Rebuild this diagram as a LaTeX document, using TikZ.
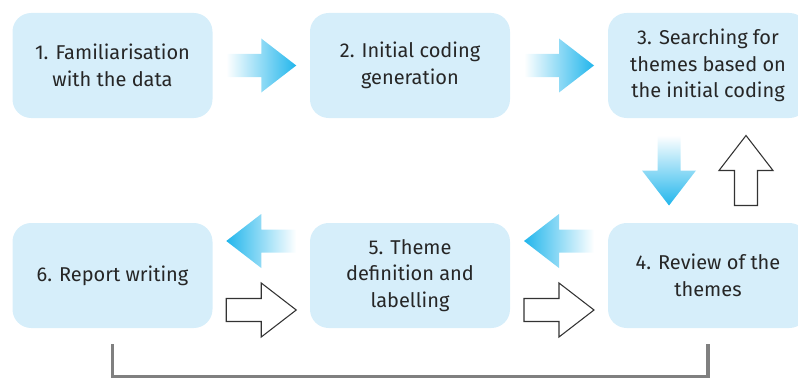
\documentclass[tikz,border=0pt]{standalone}
\usepackage{fontspec}
\setmainfont{Fira Sans}
\usetikzlibrary{calc}

\definecolor{boxblue}{RGB}{214,238,250}
\definecolor{arrowblue}{RGB}{34,182,236}
\definecolor{textgray}{RGB}{38,38,38}
\definecolor{loopgray}{RGB}{128,128,128}

\tikzset{
    stage/.style={rectangle, rounded corners=14pt, fill=boxblue,
        minimum width=150pt, minimum height=78.75pt, align=center,
        text=textgray, font=\fontsize{15pt}{20pt}\selectfont},
    openarrow/.style={draw=black!80, fill=white, line width=0.8pt},
    loopline/.style={draw=loopgray, line width=2.6pt}
}

% block arrow: style, centre, angle
\newcommand{\blockarrow}[3]{
    \path[#1, shift={(#2)}, rotate=#3]
        (-35,-11.5) -- (0,-11.5) -- (0,-27) -- (35,0) -- (0,27) -- (0,11.5) -- (-35,11.5) -- cycle;
}

\begin{document}
\begin{tikzpicture}[x=0.75pt, y=-0.75pt]

    \clip (0, 0) rectangle (798, 378);

    % Top row
    \node[stage] (fam) at (112.5, 65.5) {1. Familiarisation\\with the data};
    \node[stage] (code) at (410, 65.5) {2. Initial coding\\generation};
    \node[stage] (search) at (708, 65.5) {3. Searching for\\themes based on\\the initial coding};

    % Bottom row
    \node[stage] (review) at (708, 275.5) {4. Review of the\\themes};
    \node[stage] (define) at (410, 275.5) {5. Theme\\definition and\\labelling};
    \node[stage] (report) at (112.5, 275.5) {6. Report writing};

    % Forward arrows
    \blockarrow{shade, left color=white, right color=arrowblue}{$(fam.east)!0.5!(code.west)$}{0}
    \blockarrow{shade, left color=white, right color=arrowblue}{$(code.east)!0.5!(search.west)$}{0}
    \blockarrow{shade, top color=white, bottom color=arrowblue}{$(search.south)!0.5!(review.north)+(-39,0)$}{-90}
    \blockarrow{shade, left color=arrowblue, right color=white}{$(review.west)!0.5!(define.east)+(0,-34.5)$}{180}
    \blockarrow{shade, left color=arrowblue, right color=white}{$(define.west)!0.5!(report.east)+(0,-34.5)$}{180}

    % Backward arrows
    \blockarrow{openarrow}{$(search.south)!0.5!(review.north)+(38,0)$}{90}
    \blockarrow{openarrow}{$(define.east)!0.5!(review.west)+(0,34.5)$}{0}
    \blockarrow{openarrow}{$(report.east)!0.5!(define.west)+(0,34.5)$}{0}

    % Loop back from report to review
    \draw[loopline] ([yshift=-12pt]report.south) -- ++(0, 32) -| ([yshift=-12pt]review.south);

\end{tikzpicture}
\end{document}
